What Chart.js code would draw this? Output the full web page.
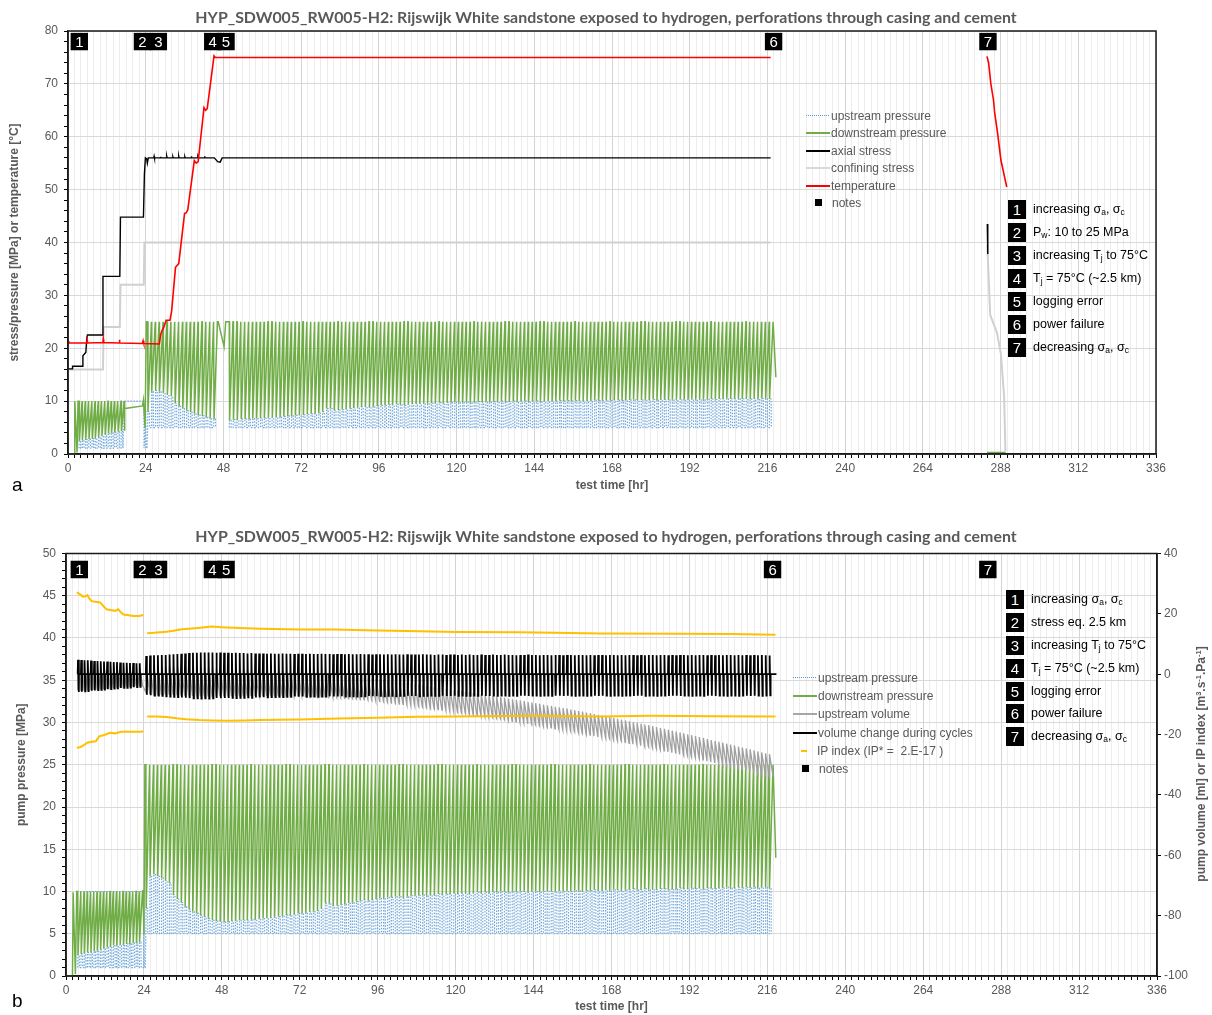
<!DOCTYPE html>
<html><head><meta charset="utf-8">
<script src="https://cdn.jsdelivr.net/npm/chart.js@4.4.1/dist/chart.umd.min.js"></script>
<style>
body{margin:0;background:#fff;width:1212px;height:1015px;position:relative;overflow:hidden;font-family:"Liberation Sans",Arial,sans-serif;}
canvas{position:absolute;left:0;}
.ttl{position:absolute;left:0;width:1212px;text-align:center;font:bold 15.9px Lato,"Open Sans",sans-serif;color:#595959;line-height:18px;white-space:nowrap;}
.pl{position:absolute;left:12px;font:19px "Liberation Sans",Arial,sans-serif;color:#000;line-height:20px;}
.lg{position:absolute;height:14px;line-height:14px;font:12px "Liberation Sans",Arial,sans-serif;color:#595959;white-space:nowrap;}
.sw{display:inline-block;width:24px;height:2px;vertical-align:middle;margin-right:1px;position:relative;top:-1px;}
.sq{display:inline-block;width:7px;height:7px;background:#000;vertical-align:middle;position:relative;top:-1px;margin:0 10px 0 9px;}
.nb{position:absolute;width:18px;height:19px;background:#000;color:#fff;font:15px "Liberation Sans",Arial,sans-serif;line-height:19px;text-align:center;}
.nt{position:absolute;font:12.5px "Liberation Sans",Arial,sans-serif;color:#000;line-height:19px;white-space:nowrap;}
.nt sub{font-size:8.5px;vertical-align:-2px;line-height:0;}
.rt{position:absolute;width:300px;text-align:center;font:bold 12px "Liberation Sans",Arial,sans-serif;color:#595959;transform:rotate(-90deg);transform-origin:150px 7px;line-height:14px;white-space:nowrap;}
.rt sup{font-size:7.5px;vertical-align:4px;line-height:0;}
</style>
</head><body>
<canvas id="ca" width="1212" height="500" style="top:0"></canvas>
<canvas id="cb" width="1212" height="500" style="top:515px"></canvas>

<div class="ttl" style="top:8px">HYP_SDW005_RW005-H2: Rijswijk White sandstone exposed to hydrogen, perforations through casing and cement</div>
<div class="ttl" style="top:527px">HYP_SDW005_RW005-H2: Rijswijk White sandstone exposed to hydrogen, perforations through casing and cement</div>
<div class="pl" style="top:475px">a</div>
<div class="pl" style="top:991px">b</div>
<div class="rt" style="left:1051px;top:757px">pump volume [ml] or IP index [m<sup>3</sup>.s<sup>-1</sup>.Pa<sup>-1</sup>]</div>

<!-- legend top -->
<div class="lg" style="left:806px;top:109px"><span class="sw" style="height:1px;background:repeating-linear-gradient(90deg,#5B9BD5 0 1px,transparent 1px 2px)"></span>upstream pressure</div>
<div class="lg" style="left:806px;top:126px"><span class="sw" style="background:#70AD47"></span>downstream pressure</div>
<div class="lg" style="left:806px;top:144px"><span class="sw" style="background:#000"></span>axial stress</div>
<div class="lg" style="left:806px;top:161px"><span class="sw" style="background:#D9D9D9"></span>confining stress</div>
<div class="lg" style="left:806px;top:179px"><span class="sw" style="background:#FF0000"></span>temperature</div>
<div class="lg" style="left:806px;top:196px"><span class="sq"></span>notes</div>

<!-- legend bottom -->
<div class="lg" style="left:793px;top:671px"><span class="sw" style="height:1px;background:repeating-linear-gradient(90deg,#5B9BD5 0 1px,transparent 1px 2px)"></span>upstream pressure</div>
<div class="lg" style="left:793px;top:689px"><span class="sw" style="background:#70AD47"></span>downstream pressure</div>
<div class="lg" style="left:793px;top:707px"><span class="sw" style="background:#A6A6A6"></span>upstream volume</div>
<div class="lg" style="left:793px;top:726px"><span class="sw" style="background:#000"></span>volume change during cycles</div>
<div class="lg" style="left:793px;top:744px"><span class="sw" style="background:#FFC000;width:6px;margin:0 10px 0 8px"></span>IP index (IP* =&nbsp; 2.E-17 )</div>
<div class="lg" style="left:793px;top:762px"><span class="sq"></span>notes</div>

<!-- notes list top -->
<div class="nb" style="left:1008px;top:200px">1</div><div class="nt" style="left:1033px;top:200px">increasing σ<sub>a</sub>, σ<sub>c</sub></div>
<div class="nb" style="left:1008px;top:223px">2</div><div class="nt" style="left:1033px;top:223px">P<sub>w</sub>: 10 to 25 MPa</div>
<div class="nb" style="left:1008px;top:246px">3</div><div class="nt" style="left:1033px;top:246px">increasing T<sub>j</sub> to 75°C</div>
<div class="nb" style="left:1008px;top:269px">4</div><div class="nt" style="left:1033px;top:269px">T<sub>j</sub> = 75°C (~2.5 km)</div>
<div class="nb" style="left:1008px;top:292px">5</div><div class="nt" style="left:1033px;top:292px">logging error</div>
<div class="nb" style="left:1008px;top:315px">6</div><div class="nt" style="left:1033px;top:315px">power failure</div>
<div class="nb" style="left:1008px;top:338px">7</div><div class="nt" style="left:1033px;top:338px">decreasing σ<sub>a</sub>, σ<sub>c</sub></div>

<!-- notes list bottom -->
<div class="nb" style="left:1006px;top:590px">1</div><div class="nt" style="left:1031px;top:590px">increasing σ<sub>a</sub>, σ<sub>c</sub></div>
<div class="nb" style="left:1006px;top:613px">2</div><div class="nt" style="left:1031px;top:613px">stress eq. 2.5 km</div>
<div class="nb" style="left:1006px;top:636px">3</div><div class="nt" style="left:1031px;top:636px">increasing T<sub>j</sub> to 75°C</div>
<div class="nb" style="left:1006px;top:659px">4</div><div class="nt" style="left:1031px;top:659px">T<sub>j</sub> = 75°C (~2.5 km)</div>
<div class="nb" style="left:1006px;top:682px">5</div><div class="nt" style="left:1031px;top:682px">logging error</div>
<div class="nb" style="left:1006px;top:704px">6</div><div class="nt" style="left:1031px;top:704px">power failure</div>
<div class="nb" style="left:1006px;top:727px">7</div><div class="nt" style="left:1031px;top:727px">decreasing σ<sub>a</sub>, σ<sub>c</sub></div>

<script>
// ================= DATA =================
// main pressure cycles (start time of each cycle, hr)
const cycT = [24.6,25.8,27,28.2,29.4,30.6,31.8,33,34.2,35.4,
36.6,37.8,39,40.2,41.4,42.6,43.8,45,46.2,47.4,
48.6,49.8,51,52.2,53.4,54.6,55.8,57,58.2,59.4,
60.6,61.8,63,64.2,65.4,66.6,67.8,69,70.2,71.4,
72.6,73.8,75,76.2,77.4,78.6,79.8,81,82.2,83.4,
84.6,85.8,87,88.2,89.4,90.6,91.8,93,94.2,95.4,
96.6,97.8,99,100.2,101.4,102.6,103.8,105,106.2,107.4,
108.6,109.8,111,112.2,113.4,114.6,115.8,117,118.2,119.4,
120.6,121.8,123,124.2,125.4,126.6,127.8,129,130.2,131.4,
132.6,133.8,135,136.2,137.4,138.6,139.8,141,142.2,143.4,
144.6,145.8,147,148.2,149.4,150.6,151.8,153,154.2,155.4,
156.6,157.8,159,160.2,161.4,162.6,163.8,165,166.2,167.4,
168.6,169.8,171,172.2,173.4,174.6,175.8,177,178.2,179.4,
180.6,181.8,183,184.2,185.4,186.6,187.8,189,190.2,191.4,
192.6,193.8,195,196.2,197.4,198.6,199.8,201,202.2,203.4,
204.6,205.8,207,208.2,209.4,210.6,211.8,213,214.2,215.4,
216.6];
// upstream pressure upper level per cycle (MPa) = downstream trough
const upEnv = [8.0,11.8,12.0,11.8,11.6,11.3,11.0,9.6,9.1,8.7,
8.2,7.9,7.6,7.4,7.2,7.0,6.8,6.6,6.5,6.5,
6.4,6.4,6.5,6.5,6.6,6.6,6.6,6.7,6.7,6.8,
6.8,6.9,6.9,7.0,7.0,7.1,7.2,7.2,7.3,7.4,
7.4,7.5,7.6,7.6,7.7,8.0,8.6,8.6,8.3,8.3,
8.4,8.5,8.6,8.7,8.8,8.9,9.0,8.9,9.0,9.1,
9.2,9.2,9.3,9.3,9.4,9.4,9.2,9.4,9.5,9.5,
9.5,9.6,9.5,9.6,9.6,9.7,9.6,9.7,9.7,9.8,
9.7,9.8,9.8,9.7,9.8,9.9,9.8,9.9,9.8,9.9,
9.9,10.0,9.9,9.9,10.0,9.9,10.0,10.0,9.9,10.0,
10.0,9.9,10.0,10.1,10.0,10.0,10.1,10.0,10.1,10.0,
10.1,10.1,10.0,10.1,10.1,10.2,10.1,10.1,10.2,10.1,
10.2,10.2,10.1,10.2,10.2,10.3,10.2,10.2,10.3,10.2,
10.3,10.2,10.3,10.3,10.2,10.3,10.3,10.4,10.3,10.3,
10.4,10.3,10.4,10.3,10.4,10.4,10.3,10.4,10.4,10.5,
10.4,10.4,10.5,10.4,10.5,10.4,10.5,10.4,10.5,10.5,
10.4];
// upstream pump volume per cycle (ml), max and min
const grayHi = [2.0,2.6,2.8,2.7,2.6,2.5,2.6,2.4,2.5,2.3,
2.4,2.2,2.3,2.1,2.2,2.0,2.1,1.9,2.0,1.8,
1.9,1.7,1.8,1.6,1.7,1.5,1.6,1.4,1.5,1.3,
1.4,1.2,1.3,1.1,1.2,1.0,1.1,0.9,1.0,0.8,
0.9,0.7,0.8,0.6,0.7,0.5,0.6,0.4,0.3,0.2,
-0.6,-0.7,-0.8,-0.9,-1.0,-1.1,-1.2,-1.3,-1.4,-1.6,
-1.7,-1.9,-2.1,-2.2,-2.4,-2.6,-2.7,-2.9,-3.1,-3.3,
-3.5,-3.7,-3.9,-4.1,-4.3,-4.4,-4.6,-4.8,-5.0,-5.2,
-5.4,-5.6,-5.8,-6.0,-6.2,-6.4,-6.6,-6.8,-7.0,-7.2,
-7.4,-7.6,-7.8,-8.1,-8.3,-8.5,-8.7,-8.9,-9.2,-9.4,
-9.6,-9.8,-10.1,-10.3,-10.5,-10.8,-11.0,-11.2,-11.4,-11.7,
-11.9,-12.2,-12.4,-12.7,-12.9,-13.2,-13.5,-13.7,-14.0,-14.2,
-14.5,-14.8,-15.0,-15.3,-15.6,-15.9,-16.1,-16.4,-16.7,-16.9,
-17.2,-17.5,-17.8,-18.1,-18.4,-18.7,-19.0,-19.3,-19.6,-19.9,
-20.2,-20.5,-20.8,-21.1,-21.5,-21.8,-22.1,-22.4,-22.7,-23.0,
-23.3,-23.6,-24.0,-24.3,-24.6,-24.9,-25.2,-25.6,-25.9,-26.2,
-26.5];
const grayLo = [-6.0,-6.6,-6.8,-6.7,-6.5,-6.6,-6.4,-6.7,-6.8,-6.9,
-6.8,-7.0,-6.9,-7.1,-7.0,-7.2,-7.1,-7.0,-7.2,-7.1,
-7.0,-7.1,-6.9,-7.0,-7.1,-6.9,-7.0,-7.0,-6.9,-7.1,
-7.0,-6.9,-7.0,-7.1,-7.0,-7.2,-7.1,-7.0,-7.2,-7.1,
-7.3,-7.2,-7.4,-7.3,-7.5,-7.4,-7.6,-7.5,-7.7,-7.8,
-7.9,-8.0,-8.1,-8.2,-8.3,-8.4,-8.5,-8.6,-8.7,-8.9,
-9.0,-9.2,-9.4,-9.5,-9.7,-9.9,-10.0,-10.2,-10.4,-10.6,
-10.8,-11.0,-11.2,-11.4,-11.6,-11.7,-11.9,-12.1,-12.3,-12.5,
-12.7,-12.9,-13.1,-13.3,-13.5,-13.7,-13.9,-14.1,-14.3,-14.5,
-14.7,-14.9,-15.1,-15.4,-15.6,-15.8,-16.0,-16.2,-16.5,-16.7,
-16.9,-17.1,-17.4,-17.6,-17.8,-18.1,-18.3,-18.5,-18.7,-19.0,
-19.2,-19.5,-19.7,-20.0,-20.2,-20.5,-20.8,-21.0,-21.3,-21.5,
-21.8,-22.1,-22.3,-22.6,-22.9,-23.2,-23.4,-23.7,-24.0,-24.2,
-24.5,-24.8,-25.1,-25.4,-25.7,-26.0,-26.3,-26.6,-26.9,-27.2,
-27.5,-27.8,-28.1,-28.4,-28.8,-29.1,-29.4,-29.7,-30.0,-30.3,
-30.6,-30.9,-31.3,-31.6,-31.9,-32.2,-32.5,-32.9,-33.2,-33.5,
-33.8];
// volume change during cycles per cycle (ml), max and min
const blackHi = [6.0,6.2,6.3,6.3,6.4,6.4,6.5,6.6,6.7,6.8,
6.9,7.0,7.1,7.1,7.2,7.2,7.2,7.2,7.1,7.2,
7.1,7.1,7.0,7.1,7.0,7.0,6.9,7.0,6.9,6.9,
6.9,6.8,6.9,6.8,6.8,6.9,6.8,6.8,6.7,6.8,
6.8,6.7,6.8,6.7,6.7,6.8,6.7,6.7,6.6,6.7,
6.7,6.6,6.7,6.6,6.6,6.7,6.6,6.6,6.5,6.6,
6.6,6.5,6.6,6.5,6.6,6.5,6.5,6.6,6.5,6.5,
6.5,6.6,6.5,6.5,6.4,6.5,6.5,6.4,6.5,6.5,
6.4,6.5,6.4,6.5,6.4,6.4,6.5,6.4,6.4,6.5,
6.4,6.4,6.5,6.4,6.4,6.3,6.4,6.4,6.5,6.4,
6.4,6.3,6.4,6.4,6.3,6.4,6.4,6.3,6.4,6.4,
6.3,6.4,6.4,6.3,6.4,6.3,6.4,6.4,6.3,6.4,
6.4,6.3,6.4,6.3,6.4,6.4,6.3,6.4,6.3,6.4,
6.4,6.3,6.4,6.4,6.3,6.4,6.3,6.4,6.4,6.3,
6.4,6.3,6.4,6.4,6.3,6.4,6.3,6.4,6.3,6.4,
6.4,6.3,6.4,6.3,6.4,6.3,6.4,6.3,6.4,6.3,
6.2];
const blackLo = [-6.8,-7.0,-7.1,-7.1,-7.2,-7.3,-7.4,-7.5,-7.6,-7.7,
-7.8,-7.9,-8.0,-8.0,-8.1,-8.0,-8.1,-8.0,-7.9,-8.0,
-7.9,-7.9,-7.8,-7.9,-7.8,-7.8,-7.7,-7.8,-7.7,-7.7,
-7.6,-7.7,-7.6,-7.6,-7.5,-7.6,-7.5,-7.5,-7.4,-7.5,
-7.4,-7.5,-7.4,-7.4,-7.5,-7.4,-7.4,-7.3,-7.4,-7.4,
-7.3,-7.4,-7.3,-7.3,-7.4,-7.3,-7.3,-7.2,-7.3,-7.3,
-7.2,-7.3,-7.2,-7.2,-7.3,-7.2,-7.2,-7.1,-7.2,-7.2,
-7.3,-7.2,-7.2,-7.1,-7.2,-7.2,-7.1,-7.2,-7.2,-7.1,
-7.2,-7.1,-7.2,-7.2,-7.1,-7.2,-7.1,-7.2,-7.2,-7.1,
-7.2,-7.1,-7.1,-7.2,-7.1,-7.2,-7.1,-7.1,-7.2,-7.1,
-7.1,-7.2,-7.1,-7.1,-7.2,-7.1,-7.1,-7.2,-7.1,-7.1,
-7.2,-7.1,-7.1,-7.2,-7.1,-7.1,-7.2,-7.1,-7.1,-7.2,
-7.1,-7.1,-7.2,-7.1,-7.1,-7.2,-7.1,-7.1,-7.2,-7.1,
-7.1,-7.2,-7.1,-7.1,-7.2,-7.1,-7.1,-7.2,-7.1,-7.1,
-7.2,-7.1,-7.1,-7.2,-7.1,-7.1,-7.2,-7.1,-7.1,-7.2,
-7.1,-7.1,-7.2,-7.1,-7.1,-7.2,-7.1,-7.1,-7.2,-7.1,
-7.0];
// early cycles (pore pressure 10 MPa stage)
const cycEa = [3.4,4.4,5.4,6.4,7.4,8.4,9.4,10.4,11.4,12.4,13.4,14.4,15.4,16.4];
const envEa = [2.5,2.6,2.7,2.8,2.9,3.0,3.2,3.5,3.7,3.9,4.0,4.1,4.2,4.3];
const cycEb = [3.6,4.6,5.6,6.6,7.6,8.6,9.6,10.6,11.6,12.6,13.6,14.6,15.6,16.6,17.6,18.6,19.6,20.6,21.6,22.6];
const envEb = [2.5,2.6,2.7,2.8,2.8,2.9,3.0,3.1,3.3,3.4,3.5,3.6,3.6,3.7,3.7,3.8,3.8,3.9,3.9,4.0];
const blackHiE = [4.8,4.7,4.6,4.6,4.5,4.4,4.4,4.3,4.2,4.2,4.1,4.0,4.0,3.9,3.8,3.8,3.7,3.7,3.6,3.6];
const blackLoE = [-5.9,-5.8,-5.7,-5.6,-5.5,-5.4,-5.3,-5.2,-5.1,-5.0,-4.9,-4.8,-4.7,-4.6,-4.5,-4.5,-4.4,-4.3,-4.3,-4.2];
const grayHiE = [4.2,4.0,3.8,3.7,3.6,3.5,3.4,3.3,3.2,3.1,3.0,2.9,2.9,2.8,2.7,2.7,2.6,2.6,2.5,2.5];
const grayLoE = [-5.4,-5.3,-5.2,-5.1,-5.0,-4.9,-4.8,-4.7,-4.6,-4.5,-4.4,-4.3,-4.2,-4.1,-4.0,-4.0,-3.9,-3.8,-3.8,-3.7];
const upBaseEarlyA = 1.1, upBaseEarlyB = 1.0, upBase = 5.0, downPeakEarly = 10.0, downPeak = 25.0;

// --- chart a: stresses and temperature ---
const axialT = [0,1.3,1.4,4.4,4.6,5.2,5.5,5.8,6.0,10.6,10.8,16.0,16.2,23.3,23.6,23.9,24.3,24.5,24.8,26.5,26.6,26.7,28.5,28.6,28.7,30.4,30.5,30.6,32.3,32.4,32.5,34.1,34.2,34.3,36.0,36.1,36.2,38.0,38.1,38.2,40.0,40.1,40.2,42.1,42.2,42.3,44.0,45.2,46.2,47.0,47.6,217.0,null,283.9,284.0,284.1];
const axialV = [16.1,16.1,16.6,16.6,18.6,19.0,19.2,21.8,22.5,22.5,33.6,33.6,44.8,44.8,53.0,56.0,55.8,55.0,56.0,56.0,56.3,56.0,56.0,56.2,56.0,56.0,56.3,56.0,56.0,56.2,56.0,56.0,56.3,56.0,56.0,56.2,56.0,56.0,56.3,56.0,56.0,56.2,56.0,56.0,56.3,56.0,56.0,56.0,55.3,55.2,56.0,56.0,null,43.5,39.2,37.8];
const confT = [0,10.8,11.0,16.0,16.2,23.4,23.6,217.0,null,283.9,284.8,286.9,288.1,288.4,289.1,289.5];
const confV = [16.0,16.0,24.0,24.0,32.0,32.0,40.0,40.0,null,39.5,26.3,22.9,19.0,16.5,10.8,0.5];
const tempT = [0,0.4,5.8,5.9,6.0,10.8,10.9,11.0,15.8,15.9,16.0,23.0,23.2,23.4,28.2,28.6,29.0,29.6,30.3,31.5,32.0,33.2,33.6,34.2,36.0,36.5,37.0,39.0,39.6,40.2,42.0,42.5,43.0,45.1,45.5,217.0,null,283.8,284.3,285.0,285.8,286.2,287.1,288.1,289.9];
const tempV = [21.5,21.0,21.0,21.5,21.0,21.1,21.7,21.1,21.0,21.6,21.0,20.9,21.4,20.9,20.8,22.5,23.3,24.0,25.3,25.3,27.0,35.3,35.6,36.0,45.5,45.6,46.2,55.5,55.0,55.3,65.5,65.0,65.3,75.3,75.0,75.0,null,75.2,74.0,70.0,67.0,64.4,60.6,55.6,50.5];
const downPreA_T = [0,2.0,2.1,2.8,2.9,3.1], downPreA_V = [0,0,10,0.3,0.3,10];
const downMidA_T = [17.4,17.6,23.0,23.3,23.8,24.2], downMidA_V = [4.4,8.6,9.1,10.2,4.9,25];
const downGapA_T = [46.4,48.2,48.7], downGapA_V = [25,20.3,25];
const downEndA_T = [218.6], downEndA_V = [14.5];
const downPostA_T = [283.8,289.6], downPostA_V = [0.3,0.3];
const upMidA_T = [17.0,17.1,23.4,23.5,24.0,24.1,24.4], upMidA_V = [1.1,10,10,1.1,8.3,1.1,1.1];
const gapA = [46.0,48.7]; // logging error interval (hr)

// --- chart b: pump pressures, volumes and IP index ---
const downPreB_T = [0,2.0,2.2,2.9,3.0,3.3], downPreB_V = [0,0,9.9,0.2,0.2,10];
const downMidB_T = [23.7,24.0,24.3], downMidB_V = [10.2,4.9,25];
const downEndB_T = [218.6], downEndB_V = [14.0];
const upTopB_T = [4.3,23.7], upTopB_V = [10,10];
const upMidB_T = [23.4,23.9,24.0,24.1,24.4], upMidB_V = [1.0,1.0,8.0,1.0,1.0];
const ipHiT = [3.3,3.9,4.5,5.2,6.0,6.6,7.2,7.9,9.0,10.5,11.5,12.5,14.0,15.1,16.1,16.8,17.7,19.0,20.7,22.5,23.8,null,25.0,27.0,29.0,31.0,33.0,35.7,38.0,41.3,44.9,48.0,51.6,60.0,72.1,82.4,96.0,109.0,120.0,140.0,164.6,190.0,205.0,218.5];
const ipHiV = [27.1,26.8,26.3,25.7,25.8,26.2,25.0,24.2,24.0,23.8,22.6,21.5,21.2,21.0,21.5,20.6,19.8,19.6,19.3,19.3,19.6,null,13.6,13.7,13.9,14.1,14.4,14.9,15.1,15.4,15.8,15.6,15.4,15.1,14.8,14.8,14.5,14.2,14.0,13.9,13.5,13.4,13.3,13.1];
const ipLoT = [3.3,4.5,5.5,6.5,8.0,9.2,10.2,11.5,13.6,15.0,17.0,19.7,23.0,23.8,null,25.0,28.0,31.0,34.0,37.0,41.0,45.0,50.0,55.0,60.0,72.0,84.0,96.0,108.0,120.0,144.0,164.6,180.0,200.0,218.5];
const ipLoV = [-24.4,-24.1,-23.5,-22.7,-22.4,-22.2,-20.6,-20.2,-19.4,-19.6,-19.1,-19.1,-19.1,-18.9,null,-14.0,-14.0,-14.2,-14.6,-14.9,-15.2,-15.3,-15.4,-15.3,-15.2,-15.0,-14.7,-14.4,-14.1,-14.0,-13.8,-14.0,-13.8,-13.9,-14.0];

// notes markers
const noteLabels = ['1','2','3','4','5','6','7'];
const noteA_T = [3.5,23.0,27.9,44.7,48.8,217.9,284.1], noteA_Y = 78;
const noteB_T = [4.1,23.5,28.5,45.1,49.3,217.6,283.9], noteB_Y = 48.1;

// axis tick labels
const xTickStep = 2, xMajor = 24;

// ================= BUILD =================
function addXY(arr, T, V){ T.forEach((t,i)=>arr.push({x:t, y:V[i]})); }

// chart a series
const downA = []; addXY(downA, downPreA_T, downPreA_V);
cycEa.forEach((t,i)=>{ downA.push({x:t,y:downPeakEarly},{x:t+0.1,y:envEa[i]},{x:t+0.95,y:downPeakEarly}); });
addXY(downA, downMidA_T, downMidA_V);
let gapDone=false;
cycT.forEach((t,i)=>{
  if(t>gapA[0] && t<gapA[1]){ if(!gapDone){ addXY(downA, downGapA_T, downGapA_V); gapDone=true;} return; }
  downA.push({x:t,y:downPeak},{x:t+0.1,y:upEnv[i]},{x:t+1.15,y:downPeak});
});
addXY(downA, downEndA_T, downEndA_V);
downA.push({x:250,y:null}); addXY(downA, downPostA_T, downPostA_V);

const upA = [];
cycEa.forEach((t,i)=>{ upA.push({x:t,y:upBaseEarlyA},{x:t+0.05,y:envEa[i]},{x:t+0.5,y:envEa[i]},{x:t+0.55,y:upBaseEarlyA}); });
addXY(upA, upMidA_T, upMidA_V);
let gapDoneU=false;
cycT.forEach((t,i)=>{
  if(t>gapA[0] && t<gapA[1]){ if(!gapDoneU){ upA.push({x:47,y:null}); gapDoneU=true;} return; }
  upA.push({x:t,y:upBase},{x:t+0.05,y:upEnv[i]},{x:t+0.55,y:upEnv[i]},{x:t+0.6,y:upBase});
});

const axialA=[], confA=[], tempA=[];
axialT.forEach((t,i)=>axialA.push({x:t===null?250:t,y:axialV[i]}));
confT.forEach((t,i)=>confA.push({x:t===null?250:t,y:confV[i]}));
tempT.forEach((t,i)=>tempA.push({x:t===null?250:t,y:tempV[i]}));
const notesA = noteA_T.map(t=>({x:t,y:noteA_Y}));

// chart b series
const downB = []; addXY(downB, downPreB_T, downPreB_V);
cycEb.forEach((t,i)=>{ downB.push({x:t,y:downPeakEarly},{x:t+0.1,y:envEb[i]},{x:t+0.95,y:downPeakEarly}); });
addXY(downB, downMidB_T, downMidB_V);
cycT.forEach((t,i)=>{ downB.push({x:t,y:downPeak},{x:t+0.1,y:upEnv[i]},{x:t+1.15,y:downPeak}); });
addXY(downB, downEndB_T, downEndB_V);

const upB = []; addXY(upB, upTopB_T, upTopB_V); upB.push({x:14,y:null});
cycEb.forEach((t,i)=>{ upB.push({x:t,y:upBaseEarlyB},{x:t+0.05,y:envEb[i]},{x:t+0.5,y:envEb[i]},{x:t+0.55,y:upBaseEarlyB}); });
addXY(upB, upMidB_T, upMidB_V);
cycT.forEach((t,i)=>{ upB.push({x:t,y:upBase},{x:t+0.05,y:upEnv[i]},{x:t+0.55,y:upEnv[i]},{x:t+0.6,y:upBase}); });

const volB = [];
cycEb.forEach((t,i)=>{ volB.push({x:t,y:0},{x:t+0.1,y:blackHiE[i]},{x:t+0.3,y:blackLoE[i]},{x:t+0.4,y:0}); });
cycT.forEach((t,i)=>{ volB.push({x:t,y:0},{x:t+0.1,y:blackHi[i]},{x:t+0.3,y:blackLo[i]},{x:t+0.4,y:0}); });
volB.push({x:218.8,y:0});

const grayB = [];
cycEb.forEach((t,i)=>{ grayB.push({x:t,y:grayLoE[i]},{x:t+0.1,y:grayHiE[i]},{x:t+0.95,y:grayLoE[i]}); });
cycT.forEach((t,i)=>{ grayB.push({x:t,y:grayLo[i]},{x:t+0.1,y:grayHi[i]},{x:t+1.15,y:grayLo[i]}); });

const ipHi=[], ipLo=[];
ipHiT.forEach((t,i)=>ipHi.push({x:t===null?24.4:t,y:ipHiV[i]}));
ipLoT.forEach((t,i)=>ipLo.push({x:t===null?24.4:t,y:ipLoV[i]}));
const notesB = noteB_T.map(t=>({x:t,y:noteB_Y}));

// ================= CHARTS =================
Chart.defaults.font.family = '"Liberation Sans", Arial, sans-serif';
Chart.defaults.font.size = 12;
Chart.defaults.color = '#595959';

const framePlugin = {
  id:'frame',
  afterDatasetsDraw(chart){
    const {ctx, chartArea:a} = chart;
    ctx.save(); ctx.strokeStyle='#1a1a1a'; ctx.lineWidth=1.5;
    ctx.strokeRect(a.left, a.top, a.right-a.left, a.bottom-a.top);
    ctx.restore();
  }
};
const notePlugin = {
  id:'noteText',
  afterDatasetsDraw(chart){
    const ctx = chart.ctx;
    chart.data.datasets.forEach((ds,di)=>{
      if(!ds.noteText) return;
      const meta = chart.getDatasetMeta(di);
      ctx.save(); ctx.fillStyle='#fff'; ctx.font='15px "Liberation Sans", Arial, sans-serif';
      ctx.textAlign='center'; ctx.textBaseline='middle';
      meta.data.forEach((p,j)=>ctx.fillText(ds.noteText[j], p.x, p.y+1));
      ctx.restore();
    });
  }
};

function xScale(h, padB){
  return {
    type:'linear', min:0, max:336, position:'bottom',
    ticks:{stepSize:xTickStep, autoSkip:false, maxRotation:0, minRotation:0, padding:3, color:'#595959',
      callback:(v)=>{ const r=Math.round(v); return r%xMajor===0 ? String(r) : ''; }},
    grid:{color:(c)=> (Math.round(c.tick.value)%xMajor===0 ? '#D4D4D4' : '#EDEDED'), lineWidth:1, tickColor:'#000', tickLength:4},
    border:{color:'#1a1a1a', width:1.5},
    title:{display:true, text:'test time [hr]', color:'#595959', font:{size:12, weight:'bold'}, padding:{top:0,bottom:padB}},
    afterFit:(s)=>{ s.height = h; }
  };
}
function yScale(min,max,step,major,w,title,padT){
  return {
    type:'linear', position:'left', min, max,
    ticks:{stepSize:step, autoSkip:false, padding:6, color:'#595959',
      callback:(v)=>{ const r=Math.round(v*100)/100; return (Math.abs(r/major - Math.round(r/major))<1e-6) ? String(r) : ''; }},
    grid:{color:(c)=>{ const r=c.tick.value/major; return Math.abs(r-Math.round(r))<1e-6 ? '#D9D9D9' : 'rgba(0,0,0,0)'; }, tickColor:'#000', tickLength:4},
    border:{color:'#1a1a1a', width:1.5},
    title:{display:true, text:title, color:'#595959', font:{size:12, weight:'bold'}, padding:{top:padT,bottom:0}},
    afterFit:(s)=>{ s.width = w; }
  };
}
function line(label, data, color, width, extra){
  return Object.assign({label, data, borderColor:color, backgroundColor:color, borderWidth:width, pointRadius:0, spanGaps:false, tension:0}, extra||{});
}

new Chart(document.getElementById('ca'), {
  type:'line',
  data:{datasets:[
    {label:'notes', data:notesA, showLine:false, pointStyle:'rect', pointRadius:12.3, backgroundColor:'#000', borderWidth:0, noteText:noteLabels},
    line('temperature', tempA, '#FF0000', 1.6),
    line('axial stress', axialA, '#000000', 1.4),
    line('confining stress', confA, '#D0D0D0', 2),
    line('downstream pressure', downA, '#70AD47', 1.5),
    line('upstream pressure', upA, '#6FA8DC', 1.2, {borderDash:[1.5,1.5]})
  ]},
  options:{
    responsive:false, animation:false, devicePixelRatio:1, events:[], normalized:true,
    layout:{padding:{left:0,right:56,top:31,bottom:0}},
    plugins:{legend:{display:false}, tooltip:{enabled:false}},
    scales:{ x:xScale(46, 7), y:yScale(0,80,2,10,68,'stress/pressure [MPa] or temperature [°C]',7) }
  },
  plugins:[framePlugin, notePlugin]
});

const yb = yScale(0,50,1,5,66,'pump pressure [MPa]',14);
new Chart(document.getElementById('cb'), {
  type:'line',
  data:{datasets:[
    {label:'notes', data:notesB, showLine:false, pointStyle:'rect', pointRadius:12.3, backgroundColor:'#000', borderWidth:0, noteText:noteLabels, yAxisID:'y'},
    line('IP index', ipHi, '#FFC000', 2, {yAxisID:'y2'}),
    line('IP index low', ipLo, '#FFC000', 2, {yAxisID:'y2'}),
    line('volume change during cycles', volB, '#000000', 1.8, {yAxisID:'y2'}),
    line('upstream volume', grayB, '#A0A0A0', 1.3, {yAxisID:'y2'}),
    line('downstream pressure', downB, '#70AD47', 1.5, {yAxisID:'y'}),
    line('upstream pressure', upB, '#6FA8DC', 1.2, {borderDash:[1.5,1.5], yAxisID:'y'})
  ]},
  options:{
    responsive:false, animation:false, devicePixelRatio:1, events:[], normalized:true,
    layout:{padding:{left:0,right:0,top:38.5,bottom:0}},
    plugins:{legend:{display:false}, tooltip:{enabled:false}},
    scales:{
      x:xScale(39, 1),
      y:yb,
      y2:{type:'linear', position:'right', min:-100, max:40,
        ticks:{stepSize:20, padding:3, color:'#595959'},
        grid:{drawOnChartArea:false, tickColor:'#000', tickLength:4},
        border:{color:'#1a1a1a', width:1.5},
        afterFit:(s)=>{ s.width = 55; }}
    }
  },
  plugins:[framePlugin, notePlugin]
});
</script>
</body></html>
